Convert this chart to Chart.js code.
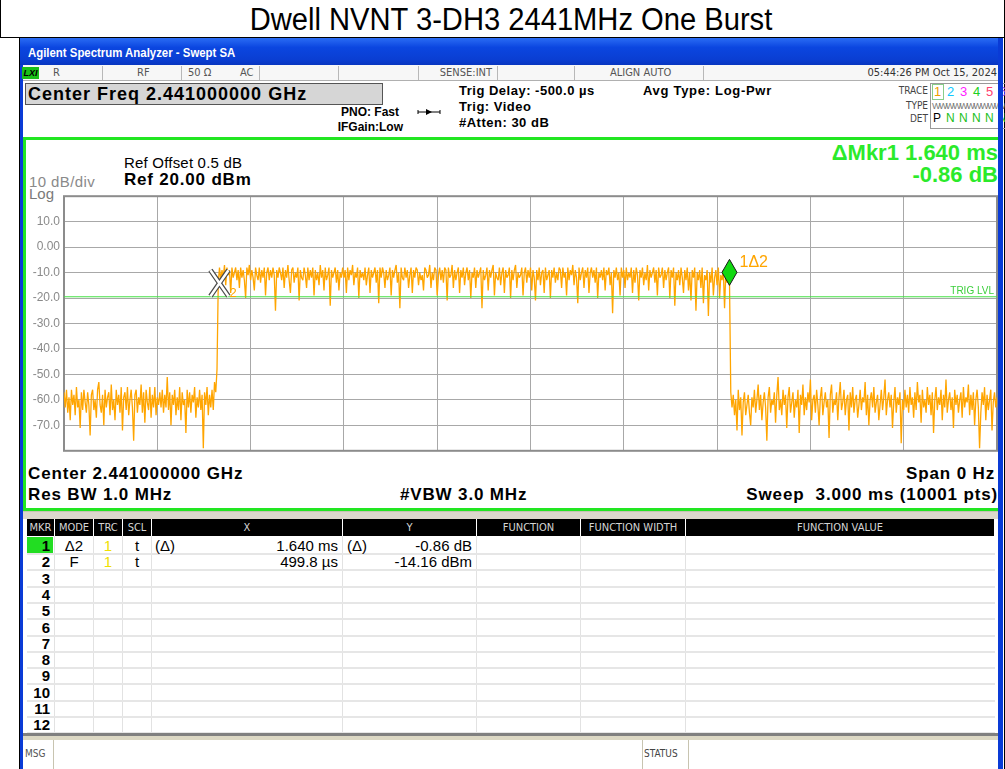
<!DOCTYPE html>
<html>
<head>
<meta charset="utf-8">
<script src="https://cdn.jsdelivr.net/npm/chart.js@4.4.1/dist/chart.umd.min.js"></script>
<style>
body { margin:0; width:1005px; height:769px; position:relative; overflow:hidden; background:#fff;
       font-family:"Liberation Sans", Arial, sans-serif; color:#000; }
.a { position:absolute; white-space:nowrap; }
.nar { font-family:"Liberation Sans Narrow", "DejaVu Sans Condensed", "Liberation Sans", sans-serif; }
.sep { position:absolute; width:1px; background:#b8b8b8; }
.b { font-weight:bold; }
.big { font-weight:bold; font-size:17px; line-height:20px; letter-spacing:0.85px; }
.hd { position:absolute; top:0; height:17px; line-height:17px; background:#000; color:#d6d6d6; font-size:11px; text-align:center; }
.cell { position:absolute; font-size:15px; line-height:16px; }
</style>
</head>
<body>

<!-- page title + table borders -->
<div class="a" style="left:17px;top:0;width:988px;height:37px;line-height:39px;text-align:center;font-size:31px;transform:scaleX(0.94)">Dwell NVNT 3-DH3 2441MHz One Burst</div>
<div class="a" style="left:0;top:0;width:1px;height:37px;background:#000"></div>
<div class="a" style="left:0;top:37px;width:1005px;height:1px;background:#000"></div>
<div class="a" style="left:19px;top:37px;width:1px;height:732px;background:#000"></div>
<div class="a" style="left:1004px;top:0;width:1px;height:769px;background:#000"></div>

<!-- analyzer window -->
<div class="a" style="left:20px;top:38px;width:983px;height:731px;background:#0a3bd6"></div>
<div class="a" style="left:20px;top:38px;width:983px;height:27px;background:linear-gradient(#2a6cf4,#0b46e0 35%,#0a3ed2 80%,#0836c0)"></div>
<div class="a b" style="left:28px;top:40px;line-height:27px;font-size:12px;color:#fff;transform:scaleX(0.95);transform-origin:left">Agilent Spectrum Analyzer - Swept SA</div>
<div class="a" style="left:23px;top:65px;width:975px;height:704px;background:#fff"></div>

<!-- status row -->
<div class="a" style="left:23px;top:65px;width:975px;height:15px;background:#f7f7f7;border-bottom:1px solid #b0b0b0"></div>
<div class="a b" style="left:22px;top:67px;width:17px;height:12px;background:#19c019;font-size:9px;line-height:12px;font-style:italic;text-align:center">LXI</div>
<div class="a nar" id="statusRow" style="left:0;top:65px;height:15px;font-size:11px;line-height:16px;color:#555"></div>

<!-- info area -->
<div class="a b" style="left:25px;top:83px;width:354px;height:20px;background:#d6d6d6;border:1px solid #555;font-size:18px;line-height:21px;padding-left:2px;letter-spacing:1px">Center Freq 2.441000000 GHz</div>
<div class="a b" style="left:300px;top:105px;width:99px;text-align:right;font-size:12px;line-height:14px">PNO: Fast</div>
<div class="a b" style="left:300px;top:120px;width:103px;text-align:right;font-size:12px;line-height:14px">IFGain:Low</div>
<svg class="a" style="left:417px;top:107px" width="24" height="10"><line x1="1" y1="5" x2="23" y2="5" stroke="#000" stroke-width="1"/><polygon points="9,2 15,5 9,8" fill="#000"/><line x1="1" y1="3" x2="1" y2="7" stroke="#000"/><line x1="23" y1="3" x2="23" y2="7" stroke="#000"/></svg>
<div class="a b" style="left:459px;top:84px;font-size:13px;line-height:14px;letter-spacing:0.5px">Trig Delay: -500.0 µs</div>
<div class="a b" style="left:459px;top:100px;font-size:13px;line-height:14px;letter-spacing:0.5px">Trig: Video</div>
<div class="a b" style="left:459px;top:116px;font-size:13px;line-height:14px;letter-spacing:0.5px">#Atten: 30 dB</div>
<div class="a b" style="left:643px;top:84px;font-size:13px;line-height:14px;letter-spacing:0.7px">Avg Type: Log-Pwr</div>
<div class="a nar" style="left:870px;top:84px;width:58px;text-align:right;font-size:10px;line-height:14px;color:#444">TRACE</div>
<div class="a nar" style="left:870px;top:99px;width:58px;text-align:right;font-size:10px;line-height:14px;color:#444">TYPE</div>
<div class="a nar" style="left:870px;top:112px;width:58px;text-align:right;font-size:10px;line-height:14px;color:#444">DET</div>
<div class="a" style="left:930px;top:83px;width:80px;height:44px;border:1px solid #999"></div>
<div id="traceBox"></div>

<!-- plot panel -->
<div class="a" style="left:23px;top:137px;width:977px;height:368px;border:3px solid #22e622;border-right:none;background:#fff"></div>
<div class="a" style="left:124px;top:155px;font-size:15px;line-height:16px;letter-spacing:0.2px">Ref Offset 0.5 dB</div>
<div class="a big" style="left:124px;top:170px;letter-spacing:0.8px">Ref 20.00 dBm</div>
<div class="a" style="left:29px;top:174px;font-size:15px;line-height:16px;color:#8a8a8a;letter-spacing:0.4px">10 dB/div</div>
<div class="a" style="left:29px;top:186px;font-size:15px;line-height:16px;color:#7a7a7a">Log</div>
<div class="a b" style="left:700px;top:141px;width:298px;text-align:right;font-size:22px;line-height:24px;color:#2bea2b">ΔMkr1 1.640 ms</div>
<div class="a b" style="left:700px;top:163px;width:298px;text-align:right;font-size:22px;line-height:24px;color:#2bea2b">-0.86 dB</div>

<div class="a" style="left:24px;top:185px;width:974px;height:277px"><canvas id="myChart"></canvas></div>

<div class="a big" style="left:28px;top:464px">Center 2.441000000 GHz</div>
<div class="a big" style="left:28px;top:485px">Res BW 1.0 MHz</div>
<div class="a big" style="left:400px;top:485px">#VBW 3.0 MHz</div>
<div class="a big" style="left:700px;top:464px;width:295px;text-align:right">Span 0 Hz</div>
<div class="a big" style="left:700px;top:485px;width:298px;text-align:right;white-space:pre">Sweep  3.000 ms (10001 pts)</div>

<!-- marker table -->
<div class="a" style="left:23px;top:511px;width:975px;height:7px;background:#dcd8cc;border-top:1px solid #c8c4b4"></div>
<div class="a" id="mkrTable" style="left:0;top:519px;width:1000px;height:215px"></div>
<div class="a" style="left:23px;top:733px;width:975px;height:3px;background:#808080"></div>
<div class="a" style="left:23px;top:736px;width:975px;height:4px;background:#dcd8c4"></div>
<div class="a nar" style="left:25px;top:747px;font-size:10px;line-height:14px;color:#555">MSG</div>
<div class="sep" style="left:53px;top:740px;height:29px;background:#c8c4b0"></div>
<div class="sep" style="left:642px;top:740px;height:29px;background:#c8c4b0"></div>
<div class="sep" style="left:688px;top:740px;height:29px;background:#c8c4b0"></div>
<div class="a nar" style="left:644px;top:747px;font-size:10px;line-height:14px;color:#444">STATUS</div>

<!-- right window frame on top -->
<div class="a" style="left:998px;top:38px;width:5px;height:731px;background:#0a3bd6;z-index:5"></div>

<script>
// sweep timebase (ms)
const sampleStep = 0.004;
const segmentStarts = [0, 0.496, 2.144];

// trace 1 levels in dBm
const noiseBefore = [
  -57,-63,-56,-65,-59,-68,-56,-62,-58,-66,-55,-63,-60,-71,-57,-64,-56,-61,-65,-57,
  -62,-74,-58,-56,-64,-60,-67,-56,-53,-62,-65,-58,-70,-56,-63,-59,-57,-66,-54,-64,
  -60,-68,-56,-62,-58,-65,-55,-72,-59,-57,-64,-55,-66,-60,-56,-63,-76,-58,-56,-65,
  -59,-62,-54,-65,-57,-69,-56,-61,-64,-55,-67,-58,-63,-55,-66,-59,-62,-57,-63,-56,
  -65,-58,-63,-51,-64,-57,-70,-58,-62,-56,-66,-59,-64,-55,-68,-57,-62,-60,-73,-56,
  -63,-57,-65,-58,-61,-55,-67,-59,-63,-56,-64,-58,-79,-57,-62,-55,-66,-58,-63,-56,
  -64,-53,-57,-48
];
const burst = [
  -14,-8,-13,-9,-12,-7,-15,-8,-11,-9,-18,-8,-12,-10,-8,-13,-9,-16,-8,-12,-9,-13,-20,-8,-11,
  -7,-13,-9,-12,-17,-8,-11,-13,-8,-14,-9,-12,-8,-19,-10,-8,-13,-9,-12,-8,-11,-25,-9,-12,-8,
  -10,-13,-8,-16,-9,-12,-7,-13,-18,-9,-8,-14,-10,-12,-8,-21,-9,-12,-13,-8,-11,-16,-8,-13,-9,
  -12,-8,-19,-9,-13,-10,-15,-7,-12,-9,-17,-8,-13,-11,-8,-23,-9,-12,-10,-8,-14,-9,-17,-10,-12,
  -8,-12,-9,-18,-8,-13,-9,-11,-7,-15,-10,-12,-8,-20,-9,-12,-10,-13,-8,-15,-11,-8,-18,-9,-12,
  -10,-8,-14,-9,-22,-8,-12,-8,-10,-16,-9,-13,-11,-8,-19,-9,-12,-9,-7,-14,-10,-24,-8,-12,-13,
  -8,-12,-9,-16,-11,-8,-18,-9,-12,-8,-9,-15,-10,-13,-11,-17,-8,-9,-12,-11,-7,-16,-10,-13,-8,
  -9,-19,-11,-8,-13,-9,-14,-8,-9,-21,-8,-12,-11,-7,-16,-9,-13,-10,-8,-18,-9,-12,-8,-15,-10,
  -8,-13,-9,-20,-10,-12,-8,-16,-9,-12,-10,-8,-24,-9,-13,-11,-8,-17,-9,-12,-9,-7,-19,-10,-12,
  -13,-8,-15,-10,-8,-18,-9,-12,-11,-8,-20,-9,-13,-9,-7,-16,-10,-12,-11,-8,-19,-10,-8,-14,-9,
  -12,-8,-17,-9,-12,-21,-9,-13,-8,-15,-10,-9,-18,-8,-13,-11,-9,-20,-9,-12,-8,-14,-10,-13,-8,
  -9,-16,-8,-12,-10,-19,-8,-13,-9,-11,-7,-15,-9,-12,-22,-8,-13,-10,-8,-16,-9,-12,-8,-18,-10,
  -8,-12,-9,-14,-8,-20,-10,-12,-9,-13,-8,-17,-9,-11,-8,-15,-10,-26,-9,-12,-8,-13,-10,-19,-8,
  -12,-9,-16,-8,-13,-10,-12,-8,-18,-9,-14,-8,-11,-21,-9,-12,-8,-15,-10,-13,-7,-17,-9,-12,-10,
  -8,-14,-9,-19,-8,-12,-11,-8,-16,-9,-13,-10,-8,-20,-9,-12,-8,-23,-10,-13,-9,-15,-8,-12,-18,
  -9,-13,-8,-17,-10,-21,-9,-12,-8,-25,-10,-13,-9,-16,-8,-22,-11,-13,-9,-27,-10,-14,-8,-19,-12,
  -9,-15,-8,-20,-11,-13,-9,-24,-10,-14,-12,-15
];
const noiseAfter = [
  -57,-63,-58,-66,-60,-72,-56,-64,-59,-74,-61,-57,-66,-62,-58,-65,-70,-59,-63,-56,
  -65,-60,-54,-64,-58,-68,-61,-57,-63,-76,-59,-55,-65,-60,-62,-57,-69,-58,-51,-64,
  -60,-66,-56,-62,-58,-71,-59,-55,-65,-61,-57,-67,-60,-63,-56,-73,-58,-62,-54,-66,
  -59,-64,-57,-61,-52,-68,-60,-58,-65,-56,-62,-70,-59,-55,-66,-61,-57,-63,-60,-75,
  -58,-54,-65,-60,-62,-57,-68,-59,-53,-64,-61,-56,-66,-60,-58,-72,-57,-63,-55,-65,
  -60,-58,-67,-62,-56,-64,-59,-61,-53,-66,-58,-70,-60,-57,-63,-55,-65,-61,-58,-68,
  -62,-56,-64,-59,-52,-66,-60,-57,-63,-58,-71,-61,-55,-65,-59,-62,-57,-77,-60,-64,
  -56,-63,-58,-65,-55,-62,-59,-67,-57,-64,-53,-61,-58,-69,-56,-63,-60,-65,-55,-62,
  -58,-66,-57,-73,-60,-55,-64,-59,-62,-56,-68,-58,-63,-52,-65,-60,-57,-64,-59,-71,
  -56,-62,-58,-65,-60,-57,-67,-55,-63,-59,-61,-54,-66,-58,-64,-57,-70,-60,-56,-63,
  -79,-65,-57,-62,-55,-68,-58,-64,-60,-56,-72,-61,-57,-63,-59
];

const trigLevel = -19.5;

// y scale: Ref 20 dBm, 10 dB/div
const yTickValues = [20, 10, 0, -10, -20, -30, -40, -50, -60, -70, -80];
const yTickLabels = ['', '10.0', '0.00', '-10.0', '-20.0', '-30.0', '-40.0', '-50.0', '-60.0', '-70.0', ''];

// markers on screen
const markerIds = ['1', '2'];
const markerTimes = [2.1398, 0.4998];
const markerLevels = [-15.02, -14.16];

// marker table
const tableMkr = ['1','2','3','4','5','6','7','8','9','10','11','12'];
const tableMode = ['Δ2', 'F'];
const tableTrc = ['1', '1'];
const tableScl = ['t', 't'];
const tableXRef = ['(Δ)', ''];
const tableX = ['1.640 ms', '499.8 µs'];
const tableYRef = ['(Δ)', ''];
const tableY = ['-0.86 dB', '-14.16 dBm'];
const tableHead = ['MKR','MODE','TRC','SCL','X','Y','FUNCTION','FUNCTION WIDTH','FUNCTION VALUE'];
const colEdges = [27, 55, 94, 123, 152, 343, 477, 581, 686, 995];

// status row
const statusSeps = [102, 181, 259, 338, 418, 497, 574, 703];

// ---------- build chrome ----------
const sr = document.getElementById('statusRow');
statusSeps.forEach(x => { sr.insertAdjacentHTML('beforeend', `<div class="sep" style="left:${x}px;top:1px;height:14px"></div>`); });
sr.insertAdjacentHTML('beforeend',
  '<div class="a" style="left:53px">R</div>' +
  '<div class="a" style="left:137px">RF</div>' +
  '<div class="a" style="left:188px">50 Ω</div>' +
  '<div class="a" style="left:240px">AC</div>' +
  '<div class="a" style="left:418px;width:74px;text-align:right">SENSE:INT</div>' +
  '<div class="a" style="left:610px">ALIGN AUTO</div>' +
  '<div class="a" style="left:703px;width:294px;text-align:right;color:#333">05:44:26 PM Oct 15, 2024</div>');

const traceColors = ['#f0a000', '#10c8ff', '#ff20ff', '#20d020', '#ff4070', '#a050ff'];
const tb = document.getElementById('traceBox');
traceColors.forEach((c, i) => {
  const x = 934 + i * 13;
  tb.insertAdjacentHTML('beforeend',
    `<div class="a" style="left:${x}px;top:84px;font-size:13px;line-height:15px;color:${c}">${i + 1}</div>` +
    `<div class="a" style="left:${x - 1}px;top:111px;font-size:12px;line-height:14px;color:${i ? '#20c020' : '#000'}">${i ? 'N' : 'P'}</div>`);
});
tb.insertAdjacentHTML('beforeend',
  '<div class="a" style="left:932px;top:84px;width:10px;height:14px;border:1px solid #8c8"></div>' +
  '<div class="a" style="left:932px;top:100px;font-size:9px;line-height:12px;color:#777;letter-spacing:-1.6px">WWWWWWWWWWWW</div>');

const mt = document.getElementById('mkrTable');
let html = '';
tableHead.forEach((h, i) => {
  html += `<div class="hd nar" style="left:${colEdges[i]}px;width:${colEdges[i + 1] - colEdges[i] - 1}px">${h}</div>`;
});
for (let i = 1; i < colEdges.length - 1; i++) {
  html += `<div class="sep" style="left:${colEdges[i] - 1}px;top:17px;height:197px;background:#e2e2e2"></div>`;
}
tableMkr.forEach((m, r) => {
  const top = 19 + r * 16.3;
  html += `<div class="a" style="left:27px;top:${top + 15}px;width:968px;height:2px;background:#e6e6e6"></div>`;
  if (r === 0) html += `<div class="a" style="left:27px;top:${top - 1}px;width:26px;height:16px;background:#22dd22"></div>`;
  html += `<div class="cell b" style="left:27px;top:${top}px;width:23px;text-align:right">${m}</div>`;
  if (r < tableMode.length) {
    html += `<div class="cell" style="left:55px;top:${top}px;width:38px;text-align:center">${tableMode[r]}</div>`;
    html += `<div class="cell" style="left:94px;top:${top}px;width:28px;text-align:center;color:#f0e000">${tableTrc[r]}</div>`;
    html += `<div class="cell" style="left:123px;top:${top}px;width:28px;text-align:center">${tableScl[r]}</div>`;
    html += `<div class="cell" style="left:155px;top:${top}px">${tableXRef[r]}</div>`;
    html += `<div class="cell" style="left:152px;top:${top}px;width:186px;text-align:right">${tableX[r]}</div>`;
    html += `<div class="cell" style="left:347px;top:${top}px">${tableYRef[r]}</div>`;
    html += `<div class="cell" style="left:343px;top:${top}px;width:129px;text-align:right">${tableY[r]}</div>`;
  }
});
mt.innerHTML = html;

// ---------- chart ----------
const tracePoints = [];
[noiseBefore, burst, noiseAfter].forEach((seg, k) => {
  seg.forEach((v, i) => tracePoints.push({ x: segmentStarts[k] + i * sampleStep, y: v }));
});

const framePlugin = {
  id: 'frame',
  beforeDatasetsDraw(chart) {
    const { ctx, chartArea: a } = chart;
    ctx.save();
    ctx.strokeStyle = '#8c8c8c';
    ctx.lineWidth = 2;
    ctx.strokeRect(a.left, a.top, a.right - a.left, a.bottom - a.top);
    ctx.restore();
  }
};

const markerPlugin = {
  id: 'markers',
  afterDatasetsDraw(chart) {
    const { ctx, chartArea, scales: { x, y } } = chart;
    ctx.save();
    ctx.font = '10px "Liberation Sans Narrow", "Liberation Sans", sans-serif';
    ctx.fillStyle = '#3ccf3c';
    ctx.textAlign = 'right';
    ctx.textBaseline = 'bottom';
    ctx.fillText('TRIG LVL', chartArea.right - 3, y.getPixelForValue(trigLevel) - 1);

    // marker 2 (fixed) : X shape
    const x2 = x.getPixelForValue(markerTimes[1]);
    const y2 = y.getPixelForValue(markerLevels[1]);
    [['#4a4a4a', 5], ['#ffffff', 2.5]].forEach(([c, w]) => {
      ctx.strokeStyle = c;
      ctx.lineWidth = w;
      ctx.beginPath();
      ctx.moveTo(x2 - 9, y2 - 13); ctx.lineTo(x2 + 9, y2 + 13);
      ctx.moveTo(x2 + 9, y2 - 13); ctx.lineTo(x2 - 9, y2 + 13);
      ctx.stroke();
    });
    ctx.font = '13px "Liberation Sans", sans-serif';
    ctx.fillStyle = '#ffa500';
    ctx.textAlign = 'left';
    ctx.textBaseline = 'middle';
    ctx.fillText(markerIds[1], x2 + 10, y2 + 10);

    // marker 1 (delta) : diamond, tip on the trace point
    const x1 = x.getPixelForValue(markerTimes[0]);
    const y1 = y.getPixelForValue(markerLevels[0]);
    ctx.beginPath();
    ctx.moveTo(x1, y1);
    ctx.lineTo(x1 + 7.5, y1 - 13);
    ctx.lineTo(x1, y1 - 26);
    ctx.lineTo(x1 - 7.5, y1 - 13);
    ctx.closePath();
    ctx.fillStyle = '#11d811';
    ctx.fill();
    ctx.strokeStyle = '#1a1a1a';
    ctx.lineWidth = 1;
    ctx.stroke();
    ctx.font = '16px "Liberation Sans", sans-serif';
    ctx.fillStyle = '#ffa500';
    ctx.fillText(markerIds[0] + 'Δ' + markerIds[1], x1 + 10, y1 - 23);
    ctx.restore();
  }
};

new Chart(document.getElementById('myChart'), {
  type: 'line',
  data: {
    datasets: [{
      label: 'Trig level',
      data: [{ x: 0, y: trigLevel }, { x: 3, y: trigLevel }],
      borderColor: '#44e044',
      borderWidth: 1,
      pointRadius: 0
    }, {
      label: 'Trace 1',
      data: tracePoints,
      borderColor: '#ffa500',
      borderWidth: 1.3,
      borderJoinStyle: 'bevel',
      pointRadius: 0,
      tension: 0
    }]
  },
  options: {
    responsive: true,
    maintainAspectRatio: false,
    animation: false,
    events: [],
    layout: { padding: { top: 6, right: 1, bottom: 3, left: 0 } },
    plugins: { legend: { display: false }, tooltip: { enabled: false } },
    scales: {
      x: {
        type: 'linear', min: 0, max: 3,
        ticks: { display: false, stepSize: 0.3 },
        grid: { color: '#a8a8a8', drawTicks: false },
        border: { display: false },
        afterFit(s) { s.height = 0; }
      },
      y: {
        min: -80, max: 20,
        ticks: {
          stepSize: 10, padding: 4, color: '#8a8a8a',
          font: { family: '"Liberation Sans", Arial, sans-serif', size: 12 },
          callback: v => yTickLabels[yTickValues.indexOf(v)] ?? ''
        },
        grid: { color: '#a8a8a8', drawTicks: false },
        border: { display: false },
        afterFit(s) { s.width = 40; }
      }
    }
  },
  plugins: [framePlugin, markerPlugin]
});
</script>
</body>
</html>
